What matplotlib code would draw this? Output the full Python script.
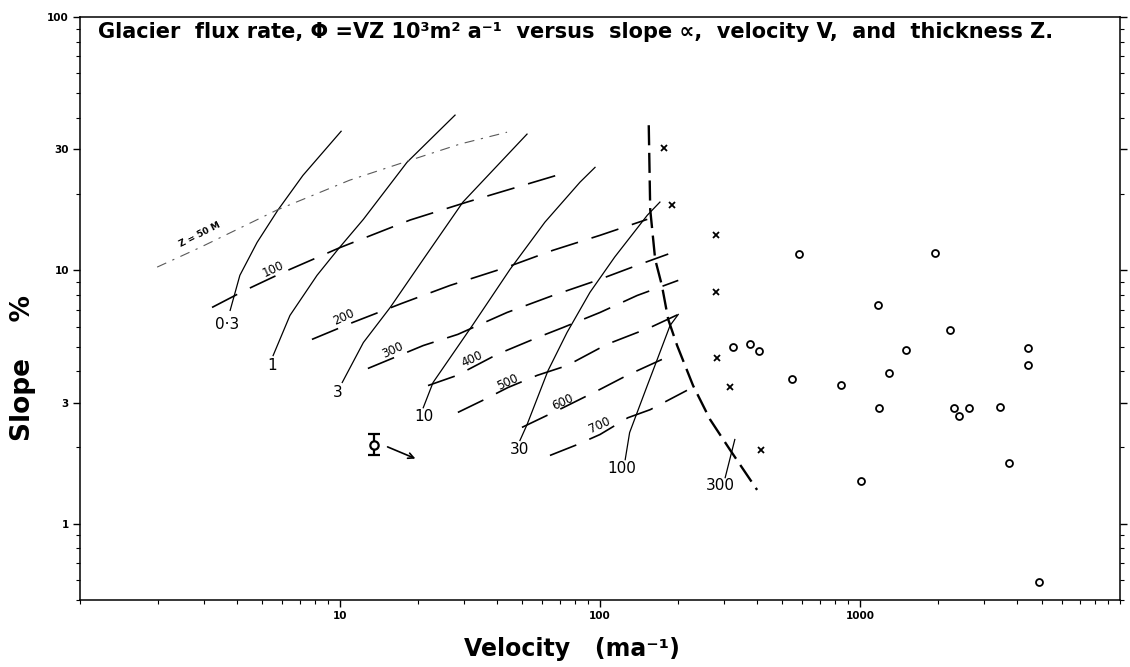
import matplotlib.pyplot as plt
from matplotlib.ticker import FixedLocator, FixedFormatter, LogLocator, NullFormatter

# Flux-rate curves, Phi = V*Z (10^3 m^2 a^-1): velocity (m/a) and slope (%)
phi_labels = ['0·3', '1', '3', '10', '30', '100', '300']
phi_v = [
    [3.78, 4.12, 4.80, 5.77, 7.20, 10.1],
    [5.53, 6.42, 8.16, 9.82, 12.3, 18.1, 27.7],
    [10.2, 12.3, 15.6, 20.9, 29.7, 52.4],
    [20.9, 22.8, 32.5, 45.1, 61.4, 83.8, 95.7],
    [49.2, 52.4, 63.1, 74.7, 91.5, 114, 152, 170],
    [125, 130, 139, 152, 166, 186, 200],
    [303, 330],
]
phi_s = [
    [6.95, 9.56, 12.9, 17.3, 23.7, 35.4],
    [4.61, 6.64, 9.56, 12.1, 15.9, 26.7, 41.0],
    [3.61, 5.19, 7.14, 11.05, 18.6, 34.5],
    [2.87, 3.61, 6.12, 10.1, 15.5, 22.3, 25.5],
    [2.13, 2.46, 4.02, 5.69, 8.19, 11.3, 16.5, 18.6],
    [1.79, 2.29, 2.75, 3.51, 4.45, 6.06, 6.70],
    [1.52, 2.15],
]
phi_label_v = [3.68, 5.48, 9.82, 21.0, 49.2, 121.5, 289]
phi_label_s = [6.12, 4.21, 3.30, 2.65, 1.96, 1.65, 1.41]

# Ice thickness lines Z (m)
z_labels = ['100', '200', '300', '400', '500', '600', '700']
z_v = [
    [3.22, 4.31, 6.04, 10.0, 18.6, 30.8, 74.7],
    [7.80, 11.2, 17.3, 26.5, 43.9, 65.9, 100, 152],
    [12.8, 20.9, 28.4, 34.6, 43.9, 65.9, 97.4, 140, 183],
    [21.8, 28.2, 40.2, 57.7, 72.1, 100, 139, 200],
    [28.4, 35.2, 44.3, 57.3, 74.7, 106, 156, 200],
    [50.1, 72.1, 100, 127, 173],
    [64.2, 81.5, 100, 128, 156, 216],
]
z_s = [
    [7.14, 8.34, 9.82, 12.3, 15.8, 18.6, 24.4],
    [5.34, 6.23, 7.41, 8.72, 10.3, 12.0, 13.75, 15.9],
    [4.10, 5.05, 5.59, 6.12, 6.82, 7.96, 9.13, 10.5, 11.6],
    [3.51, 3.85, 4.66, 5.44, 5.95, 6.82, 7.96, 9.13],
    [2.75, 3.06, 3.45, 3.85, 4.21, 5.10, 5.95, 6.70],
    [2.40, 2.87, 3.39, 3.85, 4.45],
    [1.86, 2.05, 2.25, 2.62, 2.82, 3.36],
]
z_label_v = [5.53, 10.3, 16.0, 32.2, 44.3, 72.1, 100]
z_label_s = [10.1, 6.52, 4.83, 4.45, 3.61, 3.01, 2.46]

z50_v = [1.98, 2.89, 5.72, 10.9, 18.6, 28.9, 43.9]
z50_s = [10.3, 12.3, 17.3, 22.7, 27.2, 31.5, 35.1]

# Limit line (heavy dashes)
limit_v = [154, 156, 163, 173, 183, 198, 228, 265, 316, 402]
limit_s = [37.4, 17.4, 11.05, 8.72, 6.40, 5.05, 3.51, 2.58, 1.96, 1.36]

# Observed glaciers
circ_v = [325, 378, 409, 548, 583, 846, 1010, 1173, 1183, 1293, 1502,
          1943, 2220, 2299, 2403, 2626, 3455, 3742, 4428, 4428, 4882]
circ_s = [5.0, 5.1, 4.8, 3.74, 11.6, 3.54, 1.47, 7.27, 2.85, 3.92, 4.83,
          11.7, 5.79, 2.87, 2.67, 2.87, 2.90, 1.74, 4.92, 4.25, 0.59]
cross_v = [176, 189, 279, 279, 282, 316, 416]
cross_s = [30.4, 18.1, 13.75, 8.19, 4.49, 3.45, 1.96]

# Single flux point with its range and trend arrow
pt_v, pt_s = 13.5, 2.05
pt_lo, pt_hi = 1.86, 2.25
arrow_from = (14.9, 2.03)
arrow_to = (19.95, 1.79)

fig = plt.figure(figsize=(11.3, 6.67), dpi=100)
ax = fig.add_axes([80 / 1130, 67 / 667, 1040 / 1130, 583 / 667])
ax.set_xscale('log')
ax.set_yscale('log')
ax.set_xlim(1, 10000)
ax.set_ylim(0.5, 100)

for v, s in zip(phi_v, phi_s):
    ax.plot(v, s, color='black', lw=0.9)
for lab, v, s in zip(phi_labels, phi_label_v, phi_label_s):
    ax.text(v, s, lab, fontsize=11, ha='center', va='center')

for v, s in zip(z_v, z_s):
    ax.plot(v, s, color='black', lw=1.2, dashes=(17, 8.5))
for lab, v, s in zip(z_labels, z_label_v, z_label_s):
    ax.text(v, s, lab, fontsize=8.5, rotation=25, rotation_mode='anchor',
            ha='center', va='center')

ax.plot(z50_v, z50_s, color='0.35', lw=0.8, dashes=(9, 6, 2, 6))
ax.text(2.89, 13.9, 'Z = 50 M', fontsize=6.5, fontweight='bold', rotation=27,
        rotation_mode='anchor', ha='center', va='center')

ax.plot(limit_v, limit_s, color='black', lw=1.7, dashes=(8.5, 3.2))

ax.plot(circ_v, circ_s, 'o', ms=5, mfc='none', mec='black', mew=1.3, ls='none')
ax.plot(cross_v, cross_s, 'x', ms=4.5, mec='black', mew=1.3, ls='none')

ax.errorbar([pt_v], [pt_s], yerr=[[pt_s - pt_lo], [pt_hi - pt_s]], fmt='o',
            ms=6, mfc='white', mec='black', mew=1.6, ecolor='black',
            elinewidth=1.6, capsize=4, capthick=1.6)
ax.annotate('', xy=arrow_to, xytext=arrow_from,
            arrowprops=dict(arrowstyle='->', lw=1.2, color='black'))

# Axes and ticks
ax.xaxis.set_major_locator(FixedLocator([10, 100, 1000]))
ax.xaxis.set_major_formatter(FixedFormatter(['10', '100', '1000']))
ax.xaxis.set_minor_locator(LogLocator(base=10, subs=range(1, 10)))
ax.xaxis.set_minor_formatter(NullFormatter())
ax.yaxis.set_major_locator(FixedLocator([1, 3, 10, 30, 100]))
ax.yaxis.set_major_formatter(FixedFormatter(['1', '3', '10', '30', '100']))
ax.yaxis.set_minor_locator(LogLocator(base=10, subs=range(1, 10)))
ax.yaxis.set_minor_formatter(NullFormatter())
ax.tick_params(which='major', length=5, width=1, labelsize=7.5, pad=3)
ax.tick_params(which='minor', length=3, width=0.8)
ax.tick_params(axis='y', which='both', right=True)
for lbl in ax.get_xticklabels() + ax.get_yticklabels():
    lbl.set_fontweight('bold')
for sp in ax.spines.values():
    sp.set_linewidth(1.1)

ax.text(0.0173, 0.974,
        'Glacier  flux rate, Φ =VZ 10³m² a⁻¹  versus  slope ∝,  velocity V,  and  thickness Z.',
        transform=ax.transAxes, fontsize=15, fontweight='bold', ha='left', va='center')

fig.text(23 / 1130, 1 - 368 / 667, 'Slope    %', rotation=90, fontsize=19,
         fontweight='bold', ha='center', va='center')
fig.text(572 / 1130, 1 - 649 / 667, 'Velocity   (ma⁻¹)', fontsize=17,
         fontweight='bold', ha='center', va='center')

fig.savefig('out.png', dpi=100, facecolor='white')
